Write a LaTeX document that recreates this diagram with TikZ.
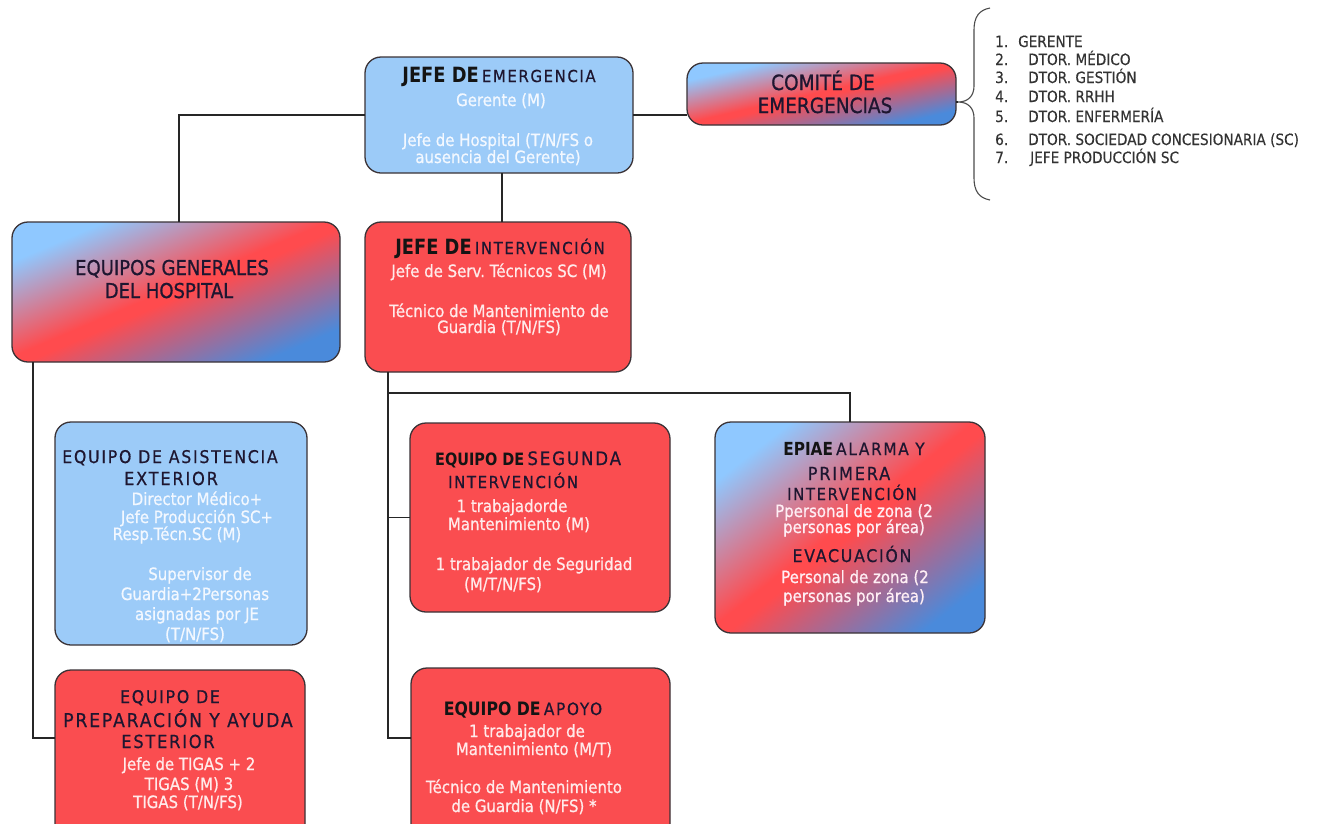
\documentclass[tikz,border=0pt]{standalone}
\usepackage{fontspec}
\setmainfont{DejaVu Sans}
\newfontfamily\fNar{DejaVu Sans}[FakeStretch=0.88,FakeBold=0.8]
\newfontfamily\fLst{DejaVu Sans}[FakeStretch=0.88,FakeBold=0.3]
\newfontfamily\fSp{DejaVu Sans}[FakeStretch=0.9,LetterSpace=10,FakeBold=0.6]
\newfontfamily\fBld{DejaVu Sans}[FakeStretch=0.85]
\newcommand\tbold[2]{{\color{tblk}\fBld\bfseries\fontsize{#1}{#1}\selectfont #2}}
\newcommand\tsp[2]{{\fSp\fontsize{#1}{#1}\selectfont #2}}
\newcommand\tnorm[2]{{\fNar\fontsize{#1}{#1}\selectfont #2}}
\definecolor{lblue}{HTML}{9CCBF8}
\definecolor{rred}{HTML}{FA4D50}
\definecolor{gLB}{HTML}{8FC8FF}
\definecolor{gR}{HTML}{FF4B4E}
\definecolor{gDB}{HTML}{4A8ADB}
\definecolor{edge}{HTML}{3A3236}
\definecolor{ttl}{HTML}{1E1630}
\definecolor{tblk}{HTML}{141414}
\definecolor{wb}{HTML}{F3F8FF}
\definecolor{wr}{HTML}{FFEAEA}
\definecolor{wg}{HTML}{FFEFF5}
\definecolor{lst}{HTML}{333333}
\pgfdeclarehorizontalshading{bluered}{100bp}{color(0bp)=(gLB); color(32bp)=(gLB); color(49bp)=(gR); color(51bp)=(gR); color(69bp)=(gDB); color(100bp)=(gDB)}
\tikzset{
  box/.style={draw=edge, line width=1.3pt, rounded corners=16pt, inner sep=0pt, outer sep=0pt},
  bluebox/.style={box, fill=lblue},
  redbox/.style={box, fill=rred},
  gbox/.style={inner sep=0pt, outer sep=0pt, rounded corners=16pt},
  gedge/.style={draw=edge, line width=1.3pt, rounded corners=16pt},
  tl/.style={anchor=base, inner sep=0pt, text=ttl},
  bw/.style={anchor=base, inner sep=0pt, text=wb, font=\fNar\fontsize{17}{17}\selectfont},
  br/.style={bw, text=wr},
  bg/.style={bw, text=wg},
  lstnode/.style={anchor=base west, inner sep=0pt, text=lst, font=\fLst\fontsize{15.5}{15.5}\selectfont},
  conn/.style={draw=black!85, line width=1.2pt}
}
% gradient fill of a named box: #1 node, #2..#5 cm entries (tenths), #6 translation
\newcommand\gradfill[6]{%
  \begin{scope}
    \clip[rounded corners=16pt] (#1.north west) rectangle (#1.south east);
    \begin{scope}[transform canvas={cm={#2,#3,#4,#5,#6}}]
      \shade[shading=bluered] (0pt,0pt) rectangle (10pt,10pt);
    \end{scope}
  \end{scope}
  \draw[gedge] (#1.north west) rectangle (#1.south east);
}
\begin{document}
\begin{tikzpicture}[x=1pt,y=-1pt]
\useasboundingbox (0,0) rectangle (1320,823);
\fill[white] (0,0) rectangle (1320,823);
\clip (0,0) rectangle (1320,823);
% boxes
\node[bluebox, minimum width=268pt, minimum height=116pt] (je) at (499,115) {};
\node[gbox, minimum width=269pt, minimum height=62pt] (ce) at (821.5,94) {};
\gradfill{ce}{26.9}{-6.2}{26.9}{6.2}{(552.5pt,-94pt)}
\node[gbox, minimum width=328pt, minimum height=140pt] (eg) at (176,292) {};
\gradfill{eg}{32.8}{-14}{32.8}{14}{(-152pt,-292pt)}
\node[redbox, minimum width=266pt, minimum height=150pt] (ji) at (498,297) {};
\node[bluebox, minimum width=252pt, minimum height=223pt] (ea) at (181,533.5) {};
\node[redbox, minimum width=260pt, minimum height=189pt] (es) at (540,517.5) {};
\node[gbox, minimum width=270pt, minimum height=211pt] (ep) at (850,527.5) {};
\gradfill{ep}{27}{-21.1}{27}{21.1}{(580pt,-527.5pt)}
\node[redbox, minimum width=250pt, minimum height=180pt] (pr) at (180,760) {};
\node[redbox, minimum width=259pt, minimum height=182pt] (ap) at (540.5,759) {};
% brace
\coordinate (bt) at (958,102);
\draw[draw=black!70, line width=1.1pt] (990,8) .. controls (979,10) and (974,17) .. (974,30) -- (974,86) .. controls (974,96) and (968,102) .. (bt) .. controls (968,102) and (974,108) .. (974,118) -- (974,178) .. controls (974,191) and (979,198) .. (990,200);
% connectors
\draw[conn] (je.west) -| ([xshift=3pt]eg.north);
\draw[conn] (je.east) -- (je.east -| ce.west);
\draw[conn] (ce.east |- bt) -- (bt);
\draw[conn] ([xshift=3pt]je.south) -- ([xshift=3pt]je.south |- ji.north);
\coordinate (egb) at ([xshift=21pt]eg.south west);
\draw[conn] (egb) |- ([yshift=22pt]pr.west);
\coordinate (jib) at ([xshift=23pt]ji.south west);
\draw[conn] (jib) |- ([yshift=21pt]ap.west);
\draw[conn] (jib |- es.west) -- (es.west);
\draw[conn] (jib) -- ++(0,21) -| (ep.north);
% list
\node[lstnode] (l1) at (995,47) {\makebox[23pt][l]{1.}GERENTE};
\node[lstnode] (l2) at (995,65) {\makebox[33pt][l]{2.}DTOR. MÉDICO};
\node[lstnode] (l3) at (995,83) {\makebox[33pt][l]{3.}DTOR. GESTIÓN};
\node[lstnode] (l4) at (995,102) {\makebox[33pt][l]{4.}DTOR. RRHH};
\node[lstnode] (l5) at (995,122) {\makebox[33pt][l]{5.}DTOR. ENFERMERÍA};
\node[lstnode] (l6) at (995,145) {\makebox[33pt][l]{6.}DTOR. SOCIEDAD CONCESIONARIA (SC)};
\node[lstnode] (l7) at (995,163) {\makebox[35pt][l]{7.}JEFE PRODUCCIÓN SC};
% box 1
\node[tl] (je1) at (499,82) {\tbold{21}{JEFE DE} \tsp{16.5}{EMERGENCIA}};
\node[bw] (je2) at (501,106) {Gerente (M)};
\node[bw] (je3) at (498,146) {Jefe de Hospital (T/N/FS o};
\node[bw] (je4) at (498,163) {ausencia del Gerente)};
% box 2
\node[tl] (ce1) at (823,90) {\tnorm{21}{COMITÉ DE}};
\node[tl] (ce2) at (825,113) {\tnorm{21}{EMERGENCIAS}};
% box 4
\node[tl] (eg1) at (172,275) {\tnorm{20.5}{EQUIPOS GENERALES}};
\node[tl] (eg2) at (169,298) {\tnorm{20.5}{DEL HOSPITAL}};
% box 5
\node[tl] (ji1) at (500,254) {\tbold{21}{JEFE DE} \tsp{16.5}{INTERVENCIÓN}};
\node[br] (ji2) at (499,277) {Jefe de Serv.\ Técnicos SC (M)};
\node[br] (ji3) at (499,317) {Técnico de Mantenimiento de};
\node[br] (ji4) at (499,333) {Guardia (T/N/FS)};
% box 6
\node[tl] (ea1) at (170,463) {\tsp{17.5}{EQUIPO DE ASISTENCIA}};
\node[tl] (ea2) at (171,485) {\tsp{18}{EXTERIOR}};
\node[bw] (ea3) at (197,505) {Director Médico+};
\node[bw] (ea4) at (197,523) {Jefe Producción SC+};
\node[bw] (ea5) at (177,540) {Resp.Técn.SC (M)};
\node[bw] (ea6) at (200,580) {Supervisor de};
\node[bw] (ea7) at (195,600) {Guardia+2Personas};
\node[bw] (ea8) at (197,620) {asignadas por JE};
\node[bw] (ea9) at (195,640) {(T/N/FS)};
% box 7
\node[tl, anchor=base west] (es1) at (435,465) {\tbold{17}{EQUIPO DE} \tsp{18.5}{SEGUNDA}};
\node[tl, anchor=base west] (es2) at (448,488) {\tsp{16.5}{INTERVENCIÓN}};
\node[br] (es3) at (512,512) {1 trabajadorde};
\node[br] (es4) at (519,530) {Mantenimiento (M)};
\node[br] (es5) at (534,570) {1 trabajador de Seguridad};
\node[br] (es6) at (503,590) {(M/T/N/FS)};
% box 8
\node[tl] (ep1) at (854,455) {\tbold{18}{EPIAE} \tsp{17}{ALARMA Y}};
\node[tl] (ep2) at (849,480) {\tsp{18}{PRIMERA}};
\node[tl] (ep3) at (852,500) {\tsp{16.5}{INTERVENCIÓN}};
\node[bg] (ep4) at (854,517) {Ppersonal de zona (2};
\node[bg] (ep5) at (854,533) {personas por área)};
\node[tl] (ep6) at (852,562) {\tsp{17.5}{EVACUACIÓN}};
\node[bg] (ep7) at (855,583) {Personal de zona (2};
\node[bg] (ep8) at (854,602) {personas por área)};
% box 9
\node[tl] (pr1) at (170,703) {\tsp{17.5}{EQUIPO DE}};
\node[tl] (pr2) at (178,727) {\tsp{19}{PREPARACIÓN Y AYUDA}};
\node[tl] (pr3) at (168,748) {\tsp{18}{ESTERIOR}};
\node[br] (pr4) at (189,770) {Jefe de TIGAS + 2};
\node[br] (pr5) at (189,790) {TIGAS (M) 3};
\node[br] (pr6) at (188,808) {TIGAS (T/N/FS)};
% box 10
\node[tl] (ap1) at (523,715) {\tbold{18.5}{EQUIPO DE} \tsp{17}{APOYO}};
\node[br] (ap2) at (527,737) {1 trabajador de};
\node[br] (ap3) at (534,755) {Mantenimiento (M/T)};
\node[br] (ap4) at (524,793) {Técnico de Mantenimiento};
\node[br] (ap5) at (524,812) {de Guardia (N/FS) *};
\end{tikzpicture}
\end{document}
